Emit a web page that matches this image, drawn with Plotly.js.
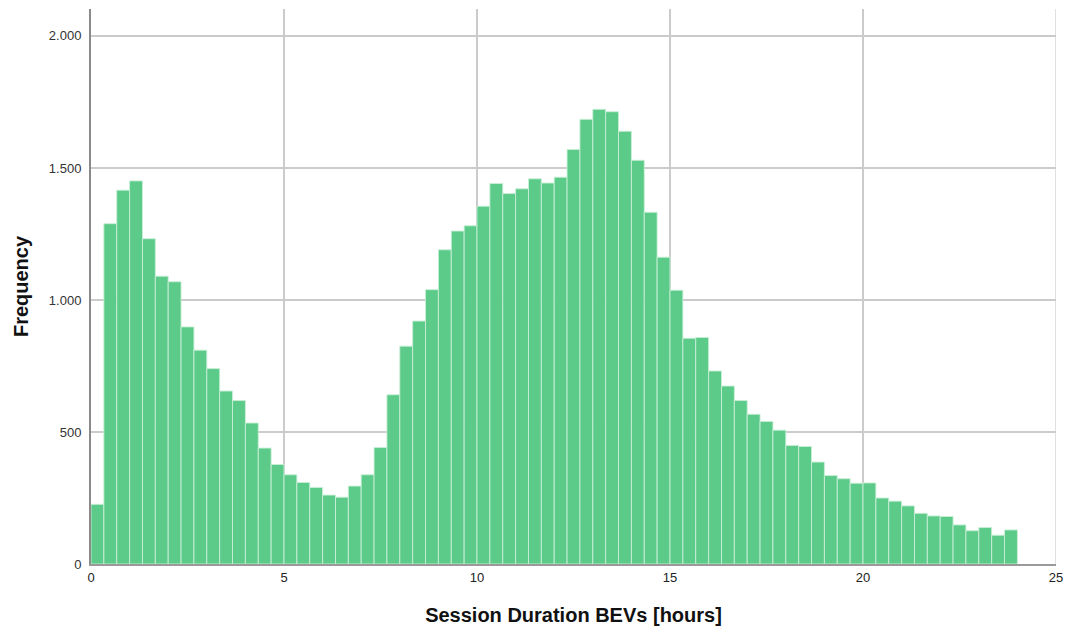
<!DOCTYPE html>
<html>
<head>
<meta charset="utf-8">
<script src="https://cdn.plot.ly/plotly-3.0.1.min.js"></script>
<style>html,body{margin:0;padding:0;background:#fff;}#chart{width:1065px;height:632px;}</style>
</head>
<body>
<div id="chart"></div>
<script>
// Histogram of session durations (hours), bins of 1/3 hour from 0 to 24
const binWidth = 1 / 3;
const binStart = 0;
const frequency = [
  226, 1289, 1416, 1451, 1232, 1090, 1069, 898, 810, 740, 655, 619,
  534, 439, 377, 338, 309, 290, 261, 253, 295, 338, 441, 641,
  825, 920, 1039, 1190, 1261, 1281, 1355, 1441, 1403, 1421, 1459, 1443,
  1465, 1570, 1684, 1722, 1713, 1639, 1529, 1332, 1162, 1037, 855, 858,
  731, 674, 619, 567, 540, 507, 449, 445, 386, 335, 323, 306,
  307, 250, 238, 220, 192, 182, 180, 148, 126, 138, 109, 129
];
const xTicks = [0, 5, 10, 15, 20, 25];
const yTicks = [0, 500, 1000, 1500, 2000];
const xTitle = 'Session Duration BEVs [hours]';
const yTitle = 'Frequency';

const centers = frequency.map((_, i) => binStart + (i + 0.5) * binWidth);

const trace = {
  type: 'bar',
  x: centers,
  y: frequency,
  width: binWidth,
  marker: {color: '#5cca88', line: {color: 'rgba(200,240,215,0.9)', width: 1}},
  hoverinfo: 'x+y'
};

const layout = {
  width: 1065,
  height: 632,
  margin: {l: 91, r: 9, t: 9, b: 68},
  paper_bgcolor: '#ffffff',
  plot_bgcolor: '#ffffff',
  separators: ',.',
  showlegend: false,
  bargap: 0,
  font: {family: 'Liberation Sans, Arial, sans-serif', color: '#222'},
  xaxis: {
    range: [0, 25],
    tickvals: xTicks,
    ticktext: xTicks.map(String),
    showgrid: true,
    gridcolor: '#cbcbcb',
    gridwidth: 1.5,
    zeroline: false,
    showline: true,
    linecolor: '#9a9a9a',
    linewidth: 2,
    ticks: '',
    tickfont: {family: 'Liberation Sans, Arial, sans-serif', size: 13, color: '#222'},
    title: {text: xTitle, font: {family: 'Liberation Sans, Arial, sans-serif', size: 20, color: '#111', weight: 'bold'}, standoff: 24}
  },
  yaxis: {
    range: [0, 2102],
    tickvals: yTicks,
    tickformat: ',d',
    showgrid: true,
    gridcolor: '#cbcbcb',
    gridwidth: 1.5,
    zeroline: false,
    showline: true,
    linecolor: '#8a8a8a',
    linewidth: 2,
    ticks: '',
    ticklen: 0,
    ticklabelstandoff: 5,
    tickfont: {family: 'Liberation Sans, Arial, sans-serif', size: 13, color: '#333'},
    title: {text: yTitle, font: {family: 'Liberation Sans, Arial, sans-serif', size: 20, color: '#111', weight: 'bold'}, standoff: 15}
  },
  shapes: [{
    type: 'line', xref: 'x', yref: 'paper', x0: 25, x1: 25, y0: 0, y1: 1,
    line: {color: '#e0e0e0', width: 2}, layer: 'below'
  }]
};

Plotly.newPlot('chart', [trace], layout, {displayModeBar: false, staticPlot: true});
</script>
</body>
</html>
